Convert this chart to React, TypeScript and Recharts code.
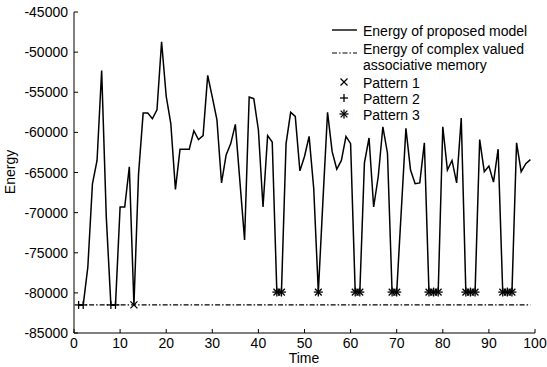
import React from "react";
import { ComposedChart, Line, XAxis, YAxis, Legend } from "recharts";

// energy of the proposed model, t = 1 .. 99
const energy = [
  -81500, -81500, -76800, -66400, -63500, -52300, -70500, -81500, -81500, -69300,
  -69300, -64300, -81500, -65200, -57600, -57600, -58300, -57200, -48700, -55500,
  -58900, -67100, -62100, -62100, -62100, -59800, -60900, -60400, -52900, -55600,
  -58400, -66300, -62800, -61400, -59000, -66200, -73400, -55600, -55800, -59700,
  -69300, -60400, -61200, -79900, -79900, -61400, -57500, -58000, -64800, -63000,
  -60500, -67000, -79900, -68500, -57500, -62400, -64600, -63500, -60500, -61400,
  -79900, -79900, -63800, -60700, -69300, -65500, -59300, -62600, -79900, -79900,
  -69700, -59500, -64700, -66400, -66300, -61300, -79900, -79900, -79900, -59300,
  -64700, -63500, -66300, -58200, -79900, -79900, -79900, -60900, -64900, -64200,
  -66200, -62100, -79900, -79900, -79900, -61300, -64900, -63900, -63400,
];

// energy of the complex valued associative memory (flat)
const complexEnergy = -81500;

// times where each stored pattern is recalled
const pattern1Times = [13];
const pattern2Times = [1, 2, 8, 9];
const pattern3Times = [44, 45, 53, 61, 62, 69, 70, 77, 78, 79, 85, 86, 87, 93, 94, 95];

const xTicks = [0, 10, 20, 30, 40, 50, 60, 70, 80, 90, 100];
const yTicks = [-85000, -80000, -75000, -70000, -65000, -60000, -55000, -50000, -45000];

const data = energy.map((e, i) => {
  const t = i + 1;
  return {
    t,
    energy: e,
    complex: complexEnergy,
    p1: pattern1Times.includes(t) ? e : null,
    p2: pattern2Times.includes(t) ? e : null,
    p3: pattern3Times.includes(t) ? e : null,
  };
});

const FONT = "'Liberation Sans', Arial, Helvetica, sans-serif";
const FS = 14;
const TICK = 4;

const BottomTick = (props: any) => {
  const { x, y, payload } = props;
  return (
    <g>
      <line x1={x} y1={y} x2={x} y2={y - TICK} stroke="#000" />
      <text x={x} y={y + 15} textAnchor="middle" fontSize={FS} fontFamily={FONT} fill="#000">
        {payload.value}
      </text>
    </g>
  );
};

const TopTick = (props: any) => {
  const { x, y } = props;
  return <line x1={x} y1={y} x2={x} y2={y + TICK} stroke="#000" />;
};

const LeftTick = (props: any) => {
  const { x, y, payload } = props;
  return (
    <g>
      <line x1={x} y1={y} x2={x + TICK} y2={y} stroke="#000" />
      <text x={x - 6} y={y + 5} textAnchor="end" fontSize={FS} fontFamily={FONT} fill="#000">
        {payload.value}
      </text>
    </g>
  );
};

const RightTick = (props: any) => {
  const { x, y } = props;
  return <line x1={x} y1={y} x2={x - TICK} y2={y} stroke="#000" />;
};

function crossMark(cx: number, cy: number, r: number) {
  return (
    <g stroke="#000" strokeWidth={1.3}>
      <line x1={cx - r} y1={cy - r} x2={cx + r} y2={cy + r} />
      <line x1={cx - r} y1={cy + r} x2={cx + r} y2={cy - r} />
    </g>
  );
}

function plusMark(cx: number, cy: number, r: number) {
  return (
    <g stroke="#000" strokeWidth={1.3}>
      <line x1={cx - r} y1={cy} x2={cx + r} y2={cy} />
      <line x1={cx} y1={cy - r} x2={cx} y2={cy + r} />
    </g>
  );
}

function starMark(cx: number, cy: number, r: number) {
  const d = r * 0.75;
  return (
    <g stroke="#000" strokeWidth={1.3}>
      <line x1={cx - r} y1={cy} x2={cx + r} y2={cy} />
      <line x1={cx} y1={cy - r} x2={cx} y2={cy + r} />
      <line x1={cx - d} y1={cy - d} x2={cx + d} y2={cy + d} />
      <line x1={cx - d} y1={cy + d} x2={cx + d} y2={cy - d} />
    </g>
  );
}

const makeDot = (draw: (cx: number, cy: number, r: number) => React.ReactElement, r: number) =>
  (props: any) => {
    const { cx, cy, value, index } = props;
    if (value == null || cy == null || isNaN(cy)) return <g key={index} />;
    return <g key={index}>{draw(cx, cy, r)}</g>;
  };

const renderLegend = () => (
  <svg width={547} height={130} style={{ display: "block" }}>
    <g fontFamily={FONT} fontSize={FS} fill="#000">
      <line x1={332} y1={30} x2={357} y2={30} stroke="#000" strokeWidth={1.4} />
      <text x={363} y={36}>Energy of proposed model</text>
      <line x1={332} y1={53} x2={357} y2={53} stroke="#000" strokeWidth={1.2} strokeDasharray="5 2 1.5 2" />
      <text x={363} y={54}>Energy of complex valued</text>
      <text x={363} y={70}>associative memory</text>
      {crossMark(344, 82, 3.5)}
      <text x={363} y={88}>Pattern 1</text>
      {plusMark(344, 98, 4)}
      <text x={363} y={104}>Pattern 2</text>
      {starMark(344, 114, 4.5)}
      <text x={363} y={120}>Pattern 3</text>
    </g>
  </svg>
);

export default function App() {
  return (
    <div style={{ position: "absolute", left: 0, top: 0, background: "#fff" }}>
      <ComposedChart
        width={547}
        height={367}
        data={data}
        margin={{ top: 12, right: 12, bottom: 0, left: 0 }}
      >
        <XAxis
          xAxisId="b"
          dataKey="t"
          type="number"
          domain={[0, 100]}
          ticks={xTicks}
          allowDataOverflow
          height={34}
          tickSize={0}
          tickMargin={0}
          tickLine={false}
          tick={<BottomTick />}
          axisLine={{ stroke: "#000" }}
          interval={0}
          label={{
            content: () => (
              <text x={304} y={363} textAnchor="middle" fontSize={FS} fontFamily={FONT} fill="#000">
                Time
              </text>
            ),
          }}
        />
        <XAxis
          xAxisId="top"
          orientation="top"
          dataKey="t"
          type="number"
          domain={[0, 100]}
          ticks={xTicks}
          allowDataOverflow
          height={0}
          tickSize={0}
          tickMargin={0}
          tickLine={false}
          tick={<TopTick />}
          axisLine={{ stroke: "#000" }}
          interval={0}
        />
        <YAxis
          yAxisId="l"
          type="number"
          domain={[-85000, -45000]}
          ticks={yTicks}
          allowDataOverflow
          width={74}
          tickSize={0}
          tickMargin={0}
          tickLine={false}
          tick={<LeftTick />}
          axisLine={{ stroke: "#000" }}
          interval={0}
          label={{
            content: () => (
              <text
                x={15}
                y={172}
                transform="rotate(-90 15 172)"
                textAnchor="middle"
                fontSize={FS}
                fontFamily={FONT}
                fill="#000"
              >
                Energy
              </text>
            ),
          }}
        />
        <YAxis
          yAxisId="r"
          orientation="right"
          type="number"
          domain={[-85000, -45000]}
          ticks={yTicks}
          allowDataOverflow
          width={0}
          tickSize={0}
          tickMargin={0}
          tickLine={false}
          tick={<RightTick />}
          axisLine={{ stroke: "#000" }}
          interval={0}
        />
        <Line
          xAxisId="b"
          yAxisId="l"
          dataKey="complex"
          type="linear"
          stroke="#000"
          strokeWidth={1.2}
          strokeDasharray="5 2 1.5 2"
          dot={false}
          isAnimationActive={false}
        />
        <Line
          xAxisId="b"
          yAxisId="l"
          dataKey="energy"
          type="linear"
          stroke="#000"
          strokeWidth={1.5}
          dot={false}
          isAnimationActive={false}
        />
        <Line
          xAxisId="b"
          yAxisId="l"
          dataKey="p1"
          stroke="none"
          dot={makeDot(crossMark, 3.5)}
          activeDot={false}
          isAnimationActive={false}
        />
        <Line
          xAxisId="b"
          yAxisId="l"
          dataKey="p2"
          stroke="none"
          dot={makeDot(plusMark, 4)}
          activeDot={false}
          isAnimationActive={false}
        />
        <Line
          xAxisId="b"
          yAxisId="l"
          dataKey="p3"
          stroke="none"
          dot={makeDot(starMark, 4.5)}
          activeDot={false}
          isAnimationActive={false}
        />
        <Legend
          layout="vertical"
          align="center"
          verticalAlign="middle"
          content={renderLegend}
          wrapperStyle={{ left: 0, top: 0, width: 547, height: 130 }}
        />
      </ComposedChart>
    </div>
  );
}
